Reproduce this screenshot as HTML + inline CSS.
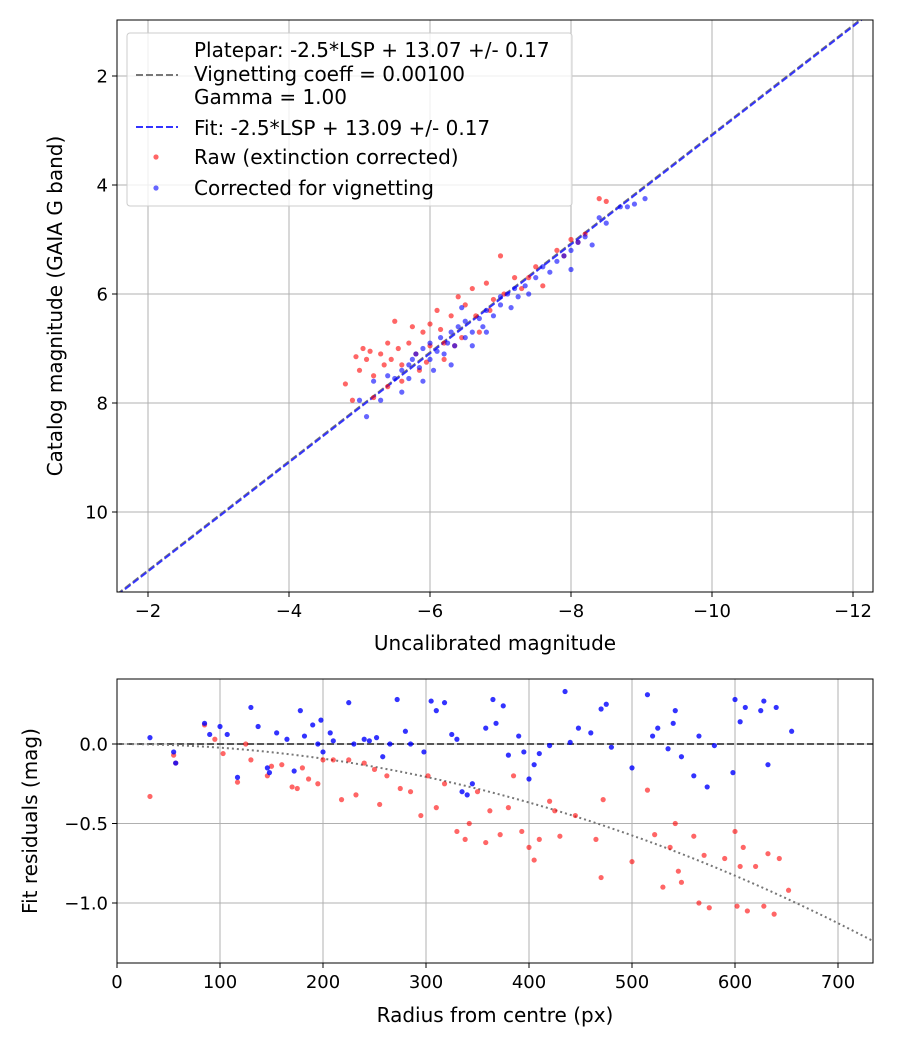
<!DOCTYPE html>
<html><head><meta charset="utf-8"><style>
html,body{margin:0;padding:0;background:#fff;overflow:hidden;width:900px;height:1050px;}
svg{display:block;font-family:"DejaVu Sans","Liberation Sans",sans-serif;}
</style></head><body>
<svg id="svg" width="900" height="1050" xmlns="http://www.w3.org/2000/svg">
<rect width="900" height="1050" fill="#fff"/>
<g id="topg"></g>
<g id="botg"></g>
</svg>
<script>
const topRawX=[-4.8,-4.9,-5.0,-5.05,-5.1,-5.15,-5.2,-5.3,-5.35,-5.4,-5.45,-5.5,-5.55,-5.6,-5.7,-5.75,-5.8,-5.85,-5.9,-6.0,-6.0,-6.1,-6.15,-6.2,-6.3,-6.4,-6.45,-6.5,-6.6,-6.65,-6.7,-6.8,-6.9,-7.0,-7.05,-7.2,-7.3,-7.5,-7.6,-7.8,-7.9,-8.0,-8.1,-8.2,-8.4,-8.5,-5.2,-5.6,-6.2,-5.4,-4.95,-6.35,-7.4,-6.85,-5.95];
const topRawY=[7.65,7.95,7.4,7.0,7.2,7.05,7.5,7.1,7.3,6.9,7.2,6.5,7.0,7.3,6.9,6.6,7.1,7.4,6.7,6.95,6.55,6.3,6.65,7.2,6.4,6.05,6.8,6.2,5.9,6.4,6.7,5.8,6.1,5.3,6.0,5.7,5.9,5.5,5.85,5.2,5.3,5.0,5.05,4.9,4.25,4.3,7.9,7.6,6.9,7.7,7.15,6.95,5.7,6.3,7.25];
const topCorX=[-5.1,-5.0,-5.2,-5.4,-5.5,-5.6,-5.7,-5.7,-5.8,-5.85,-5.9,-6.0,-6.0,-6.1,-6.15,-6.2,-6.25,-6.3,-6.35,-6.4,-6.5,-6.5,-6.6,-6.7,-6.75,-6.8,-6.9,-7.0,-7.0,-7.1,-7.2,-7.25,-7.35,-7.5,-7.6,-7.7,-7.8,-7.9,-8.0,-8.0,-8.1,-8.2,-8.4,-8.5,-8.7,-8.9,-9.05,-8.8,-5.6,-5.9,-6.3,-6.6,-7.4,-8.3,-5.3,-6.8,-7.15,-6.05,-5.75,-6.45];
const topCorY=[8.25,7.95,7.6,7.5,7.55,7.4,7.3,7.55,7.1,7.35,7.0,7.2,6.9,7.05,6.8,7.1,6.9,6.7,6.95,6.6,6.8,6.5,6.7,6.45,6.6,6.3,6.4,6.2,6.05,6.0,5.9,6.05,5.85,5.7,5.5,5.6,5.4,5.3,5.2,5.55,5.05,4.95,4.6,4.7,4.4,4.35,4.25,4.4,7.8,7.6,7.3,6.95,6.0,5.1,7.95,6.7,6.25,7.4,7.2,6.25];
const xTicks=[-2,-4,-6,-8,-10,-12];
const yTicks=[2,4,6,8,10];
const botCorR=[32,55,57,85,90,100,107,117,130,137,146,148,155,165,172,178,182,190,195,198,200,207,210,225,230,240,245,252,258,265,272,280,285,298,305,310,318,325,330,335,340,345,358,365,368,375,380,390,395,400,405,410,420,435,440,448,460,470,475,480,500,515,520,525,535,540,542,548,560,565,573,580,600,605,610,598,625,628,640,632,655];
const botCorV=[0.04,-0.05,-0.12,0.13,0.06,0.11,0.06,-0.21,0.23,0.11,-0.15,-0.18,0.07,0.03,-0.17,0.21,0.05,0.12,0.0,0.15,-0.05,0.07,0.02,0.26,0.0,0.03,0.02,0.04,-0.08,0.0,0.28,0.08,0.0,-0.05,0.27,0.21,0.26,0.06,0.03,-0.3,-0.32,-0.25,0.1,0.28,0.13,0.24,-0.07,0.05,-0.05,-0.22,-0.13,-0.06,-0.01,0.33,0.01,0.1,0.07,0.22,0.25,-0.02,-0.15,0.31,0.05,0.1,-0.03,0.13,0.21,-0.08,-0.2,0.05,-0.27,-0.01,0.28,0.14,0.23,-0.18,0.21,0.27,0.23,-0.13,0.08];
const botRawR=[32,55,57,85,95,103,117,125,130,146,150,160,170,175,180,186,195,200,210,218,225,232,240,250,255,262,275,285,295,302,310,318,330,338,342,350,358,362,372,380,385,393,400,405,410,420,425,430,445,465,470,472,500,515,522,530,537,542,545,548,560,565,570,575,590,600,602,605,608,612,620,628,632,638,643,652];
const botRawV=[-0.33,-0.07,-0.12,0.12,0.03,-0.06,-0.24,0.0,-0.1,-0.2,-0.14,-0.13,-0.27,-0.28,-0.15,-0.22,-0.25,-0.1,-0.1,-0.35,-0.1,-0.32,-0.12,-0.16,-0.38,-0.2,-0.28,-0.3,-0.45,-0.2,-0.4,-0.25,-0.55,-0.6,-0.5,-0.3,-0.62,-0.42,-0.57,-0.4,-0.2,-0.55,-0.65,-0.73,-0.6,-0.36,-0.42,-0.58,-0.45,-0.6,-0.84,-0.35,-0.74,-0.29,-0.57,-0.9,-0.65,-0.5,-0.8,-0.87,-0.58,-1.0,-0.7,-1.03,-0.72,-0.55,-1.02,-0.77,-0.65,-1.05,-0.77,-1.02,-0.69,-1.07,-0.72,-0.92];
const rTicks=[0,100,200,300,400,500,600,700];
const vTicks=[0.0,-0.5,-1.0];
const plateOffset=13.07;
const fitOffset=13.09;
const vigK=2.3e-6;

const NS='http://www.w3.org/2000/svg';
const FS=20;
function el(p,t,a){const e=document.createElementNS(NS,t);for(const k in a)e.setAttribute(k,a[k]);p.appendChild(e);return e;}
const T={l:117,r:873,t:20,b:592};
const tx=v=>148+(v-(-2))*(-70.5);
const ty=v=>76+(v-2)*54.5;
const topG=document.getElementById('topg');
const svgEl=document.getElementById('svg');
const defs=el(svgEl,'defs',{});
const cp1=el(defs,'clipPath',{id:'c1'});el(cp1,'rect',{x:T.l,y:T.t,width:T.r-T.l,height:T.b-T.t});
const cp2=el(defs,'clipPath',{id:'c2'});el(cp2,'rect',{x:117,y:679,width:756,height:284});
xTicks.forEach(v=>{const x=tx(v);
 const g=el(topG,'line',{x1:x,x2:x,y1:T.t,y2:T.b,stroke:'#b0b0b0','stroke-width':1});
 
 
 el(topG,'line',{x1:x,x2:x,y1:T.b,y2:T.b+5,stroke:'#000'});
 const t=el(topG,'text',{x:x,y:T.b+25,'text-anchor':'middle','font-size':FS-2});t.textContent='\u2212'+Math.abs(v);
 
 });
yTicks.forEach(v=>{const y=ty(v);
 const g=el(topG,'line',{x1:T.l,x2:T.r,y1:y,y2:y,stroke:'#b0b0b0','stroke-width':1});
 
 
 el(topG,'line',{x1:T.l-5,x2:T.l,y1:y,y2:y,stroke:'#000'});
 const t=el(topG,'text',{x:T.l-9,y:y+6.5,'text-anchor':'end','font-size':FS-2});t.textContent=v;
 
 });
const gc=el(topG,'g',{'clip-path':'url(#c1)'});
const xa=-1.0,xb=-13;
const l1=el(gc,'line',{x1:tx(xa),y1:ty(xa+plateOffset),x2:tx(xb),y2:ty(xb+plateOffset),stroke:'#777','stroke-width':2,'stroke-dasharray':'7,3'});


const l2=el(gc,'line',{x1:tx(xa),y1:ty(xa+fitOffset),x2:tx(xb),y2:ty(xb+fitOffset),stroke:'rgba(40,40,255,0.9)','stroke-width':2,'stroke-dasharray':'7,3'});


topRawX.forEach((v,i)=>{const c=el(gc,'circle',{cx:tx(v),cy:ty(topRawY[i]),r:2.6,fill:'rgba(255,0,0,0.6)'});
 
 });
topCorX.forEach((v,i)=>{const c=el(gc,'circle',{cx:tx(v),cy:ty(topCorY[i]),r:2.6,fill:'rgba(0,0,255,0.6)'});
 
 });
el(topG,'rect',{x:T.l,y:T.t,width:T.r-T.l,height:T.b-T.t,fill:'none',stroke:'#000','stroke-width':1});
const lg=el(topG,'g',{});


el(lg,'rect',{x:127,y:33,width:445,height:173,rx:3,fill:'rgba(255,255,255,0.8)',stroke:'#ccc'});
el(lg,'line',{x1:136,x2:178,y1:75,y2:75,stroke:'#777','stroke-width':2,'stroke-dasharray':'7,3'});
el(lg,'line',{x1:136,x2:178,y1:127,y2:127,stroke:'#3333ff','stroke-width':2,'stroke-dasharray':'7,3'});
el(lg,'circle',{cx:156,cy:157,r:2.6,fill:'rgba(255,0,0,0.6)'});
el(lg,'circle',{cx:156,cy:188,r:2.6,fill:'rgba(0,0,255,0.6)'});
[['Platepar: -2.5*LSP + 13.07 +/- 0.17',57],['Vignetting coeff = 0.00100',81],['Gamma = 1.00',104],['Fit: -2.5*LSP + 13.09 +/- 0.17',135],['Raw (extinction corrected)',164],['Corrected for vignetting',195]].forEach(a=>{
 const t=el(lg,'text',{x:194,y:a[1],'font-size':FS});t.textContent=a[0];
 
 });
let tt=el(topG,'text',{x:495,y:650,'text-anchor':'middle','font-size':FS});tt.textContent='Uncalibrated magnitude';


tt=el(topG,'text',{x:0,y:0,'text-anchor':'middle','font-size':FS,transform:'translate(62,306) rotate(-90)'});tt.textContent='Catalog magnitude (GAIA G band)';


const B={l:117,r:873,t:679,b:963};
const bx=v=>117+v*1.03;
const by=v=>744-v*159;
const botG=document.getElementById('botg');
rTicks.forEach(v=>{const x=bx(v);
 const g=el(botG,'line',{x1:x,x2:x,y1:B.t,y2:B.b,stroke:'#b0b0b0'});
 
 
 el(botG,'line',{x1:x,x2:x,y1:B.b,y2:B.b+5,stroke:'#000'});
 const t=el(botG,'text',{x:x,y:B.b+25,'text-anchor':'middle','font-size':FS-2});t.textContent=v;
 
 });
vTicks.forEach(v=>{const y=by(v);
 const g=el(botG,'line',{x1:B.l,x2:B.r,y1:y,y2:y,stroke:'#b0b0b0'});
 
 
 el(botG,'line',{x1:B.l-5,x2:B.l,y1:y,y2:y,stroke:'#000'});
 const t=el(botG,'text',{x:B.l-9,y:y+6.5,'text-anchor':'end','font-size':FS-2});t.textContent=(v<0?'\u2212':'')+Math.abs(v).toFixed(1);
 
 });
const bc=el(botG,'g',{'clip-path':'url(#c2)'});
const zl=el(bc,'line',{x1:B.l,x2:B.r,y1:by(0),y2:by(0),stroke:'#555','stroke-width':2,'stroke-dasharray':'7,3'});


let d='';for(let r=0;r<=740;r+=5){d+=(r?'L':'M')+bx(r)+','+by(-vigK*r*r);}
const vc=el(bc,'path',{d:d,fill:'none',stroke:'#777','stroke-width':2,'stroke-dasharray':'2,3'});


botRawR.forEach((v,i)=>{const c=el(bc,'circle',{cx:bx(v),cy:by(botRawV[i]),r:2.6,fill:'rgba(255,0,0,0.6)'});
 
 });
botCorR.forEach((v,i)=>{const c=el(bc,'circle',{cx:bx(v),cy:by(botCorV[i]),r:2.6,fill:'rgba(0,0,255,0.8)'});
 
 });
el(botG,'rect',{x:B.l,y:B.t,width:B.r-B.l,height:B.b-B.t,fill:'none',stroke:'#000'});
tt=el(botG,'text',{x:495,y:1022,'text-anchor':'middle','font-size':FS});tt.textContent='Radius from centre (px)';


tt=el(botG,'text',{x:0,y:0,'text-anchor':'middle','font-size':FS,transform:'translate(37,821) rotate(-90)'});tt.textContent='Fit residuals (mag)';


</script>
</body></html>
